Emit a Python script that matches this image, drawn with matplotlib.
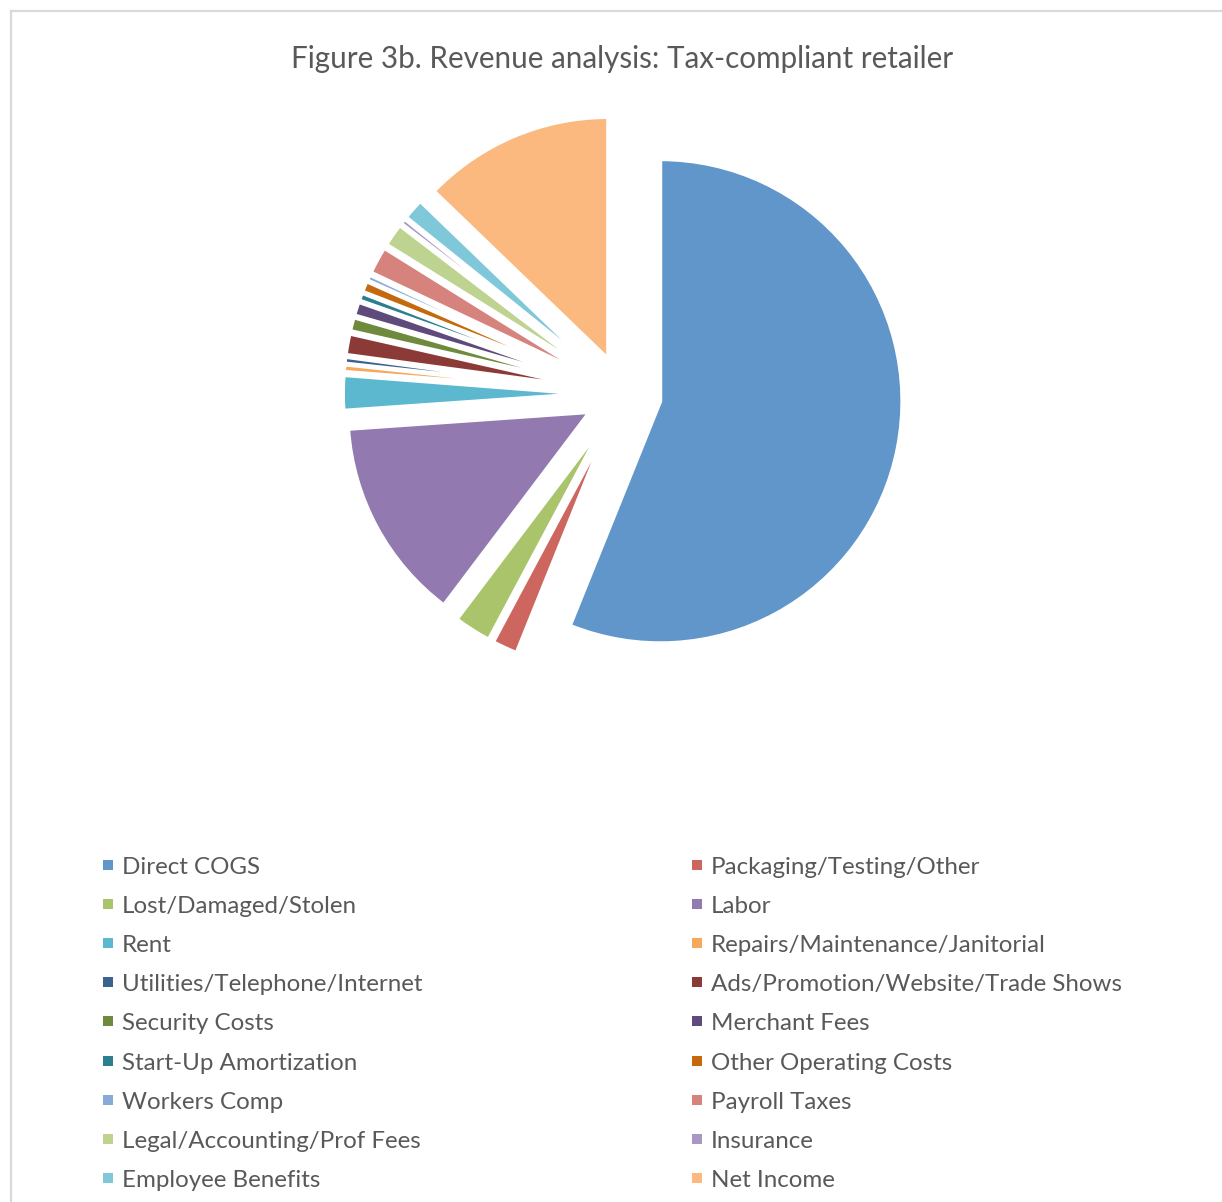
import matplotlib
matplotlib.use("Agg")
from matplotlib import pyplot as plt

# slice values (percent of revenue), clockwise from 12 o'clock
labels = [
    "Direct COGS", "Packaging/Testing/Other", "Lost/Damaged/Stolen", "Labor",
    "Rent", "Repairs/Maintenance/Janitorial", "Utilities/Telephone/Internet",
    "Ads/Promotion/Website/Trade Shows", "Security Costs", "Merchant Fees",
    "Start-Up Amortization", "Other Operating Costs", "Workers Comp",
    "Payroll Taxes", "Legal/Accounting/Prof Fees", "Insurance",
    "Employee Benefits", "Net Income",
]
values = [56.1, 1.7, 2.5, 13.6, 2.34, 0.48, 0.43, 1.41, 0.92, 0.92,
          0.52, 0.72, 0.39, 1.84, 1.54, 0.38, 1.42, 12.8]
colors = [
    "#6096C9", "#CD665F", "#A9C46A", "#9279AF", "#5CB8CF", "#F9A75A",
    "#3B6390", "#8B3A37", "#6E8A3D", "#5F4B7B", "#2B7F8F", "#C5690D",
    "#87AAD9", "#D6837E", "#BDD38F", "#A897C4", "#7FC8DA", "#FBB97F",
]
title = "Figure 3b. Revenue analysis: Tax-compliant retailer"

W, H = 1222, 1202
text_color = "#595959"
font = "Lato"

fig = plt.figure(figsize=(W / 100, H / 100), dpi=100)

# background layer in pixel coordinates: frame, title, legend
bg = fig.add_axes([0, 0, 1, 1])
bg.set_xlim(0, W)
bg.set_ylim(H, 0)
bg.axis("off")
bg.plot([11, W], [10.5, 10.5], color="#D9D9D9", lw=1.6)
bg.plot([11, 11], [10.5, H], color="#D9D9D9", lw=1.6)
bg.text(622, 59, title, ha="center", va="center", fontsize=21.3,
        color=text_color, family=font)

# pie, centre at (623, 394) px, radius ~242 px
cx, cy, half = 623, 394, 300
scale = 242.0
ax = fig.add_axes([(cx - half) / W, (H - cy - half) / H, 2 * half / W, 2 * half / H])
ax.pie(values, colors=colors, startangle=90, counterclock=False,
       explode=[0.157] * len(values),
       wedgeprops=dict(edgecolor="white", linewidth=2.8))
lim = half / scale
ax.set_xlim(-lim, lim)
ax.set_ylim(-lim, lim)
ax.axis("off")

# legend, two columns filled row by row
for i, (lab, col) in enumerate(zip(labels, colors)):
    row, c = divmod(i, 2)
    y = 866 + 39.1 * row
    xm = 108 if c == 0 else 697
    bg.scatter([xm], [y - 1], marker="s", s=52, color=col, linewidths=0)
    bg.text(xm + 14, y + 1.5, lab, ha="left", va="center", fontsize=17.4,
            color=text_color, family=font)

fig.savefig("out.png", dpi=100)
